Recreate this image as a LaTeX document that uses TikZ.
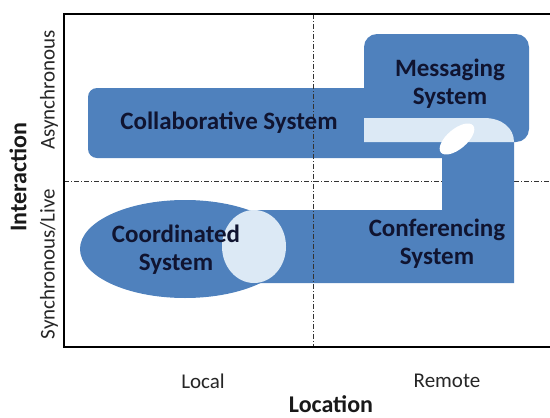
\documentclass[tikz,border=0pt]{standalone}
\usepackage{fontspec}
\setmainfont{Carlito}
\usetikzlibrary{shapes.geometric}
\definecolor{sysblue}{RGB}{79,129,189}
\definecolor{syslight}{RGB}{220,233,245}
\definecolor{sysink}{RGB}{16,20,48}

\begin{document}
\begin{tikzpicture}[x=1pt, y=-1pt,
  sys/.style={font=\fontsize{25}{28}\selectfont\bfseries, text=sysink, align=center, inner sep=0pt},
  axis/.style={font=\fontsize{21}{24}\selectfont, text=black!85, inner sep=0pt},
  title/.style={font=\fontsize{24}{28}\selectfont\bfseries, text=black!90, inner sep=0pt},
  divider/.style={black!80, line width=0.8pt, dash pattern=on 5pt off 2pt on 1pt off 2pt}]
  \useasboundingbox (0,0) rectangle (550,418);
  \draw[divider] (64,181) -- (550,181);
  \fill[sysblue, rounded corners=9pt] (88,88) rectangle (470,158);
  \fill[sysblue, rounded corners=13pt] (364,34) rectangle (529,142);
  \fill[sysblue] (442,140) -- (514,140) -- (514,283) -- (250,283) -- (250,210) -- (442,210) -- cycle;
  \fill[sysblue] (185,249) ellipse [x radius=105, y radius=49];
  \fill[syslight] (364,142) -- (364,118) -- (484,118) .. controls (502,118) and (514,128) .. (514,142) -- cycle;
  \fill[syslight] (254,246.5) ellipse [x radius=32, y radius=36.5];
  \fill[white, rotate around={40:(457,139)}] (457,139) ellipse [x radius=21, y radius=10];
  \draw[divider] (313,14) -- (313,347);
  \draw[line width=2pt] (552,14) -- (64,14) -- (64,347) -- (552,347);
  \node[sys] (coll) at (229,123) {Collaborative System};
  \node[sys] (msg) at (450,84) {Messaging\\System};
  \node[sys] (conf) at (437,244) {Conferencing\\System};
  \node[sys] (coord) at (176,250) {Coordinated\\System};
  \node[axis] (local) at (203,381) {Local};
  \node[axis] (remote) at (447,381) {Remote};
  \node[title, text depth=0pt] (location) at (331,404) {Location};
  \node[title, rotate=90] (interaction) at (18,177) {Interaction};
  \node[axis, rotate=90] (async) at (49,90) {Asynchronous};
  \node[axis, rotate=90] (sync) at (49,264) {Synchronous/Live};
\end{tikzpicture}
\end{document}
